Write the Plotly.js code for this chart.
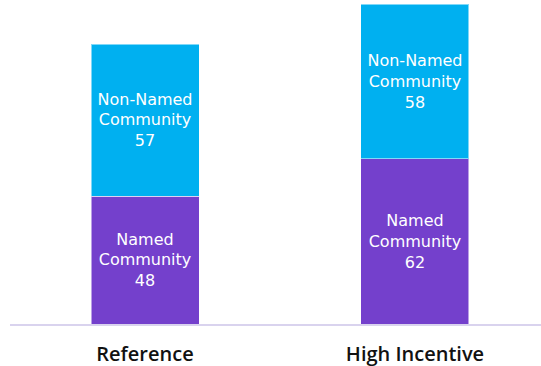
<!DOCTYPE html>
<html>
<head>
<meta charset="utf-8">
<script src="https://cdn.plot.ly/plotly-3.0.1.min.js"></script>
<style>html,body{margin:0;padding:0;background:#fff;}#chart{width:541px;height:366px;}</style>
</head>
<body>
<div id="chart"></div>
<script>
const categories = ["Reference", "High Incentive"];
const namedValues = [48, 62];
const nonNamedValues = [57, 58];
const namedLabel = "Named<br>Community";
const nonNamedLabel = "Non-Named<br>Community";

const textFont = {family: "DejaVu Sans, sans-serif", size: 16, color: "#ffffff"};

const traces = [
  {
    type: "bar", x: categories, y: namedValues, name: "Named Community",
    marker: {color: "#7440CC", line: {color: "rgba(255,255,255,0.5)", width: 1}},
    text: namedValues.map(v => namedLabel + "<br>" + v),
    textposition: "inside", insidetextanchor: "middle", textangle: 0,
    constraintext: "none", textfont: textFont, hoverinfo: "none", width: 0.4
  },
  {
    type: "bar", x: categories, y: nonNamedValues, name: "Non-Named Community",
    marker: {color: "#00B0F0", line: {color: "rgba(255,255,255,0.5)", width: 1}},
    text: nonNamedValues.map(v => nonNamedLabel + "<br>" + v),
    textposition: "inside", insidetextanchor: "middle", textangle: 0,
    constraintext: "none", textfont: textFont, hoverinfo: "none", width: 0.4
  }
];

const layout = {
  width: 541, height: 366,
  margin: {l: 10, r: 0, t: 0, b: 42},
  barmode: "stack",
  showlegend: false,
  paper_bgcolor: "#ffffff", plot_bgcolor: "#ffffff",
  xaxis: {
    type: "category", range: [-0.5, 1.4667],
    showline: true, linecolor: "#D9D3EE", linewidth: 1.5,
    showgrid: false, zeroline: false, ticks: "",
    ticklabelstandoff: 11,
    tickfont: {family: "Open Sans, sans-serif", size: 20, color: "#111111", weight: 600}
  },
  yaxis: {range: [0, 121.5], visible: false, showgrid: false, zeroline: false}
};

Plotly.newPlot("chart", traces, layout, {staticPlot: true, displayModeBar: false});
</script>
</body>
</html>
